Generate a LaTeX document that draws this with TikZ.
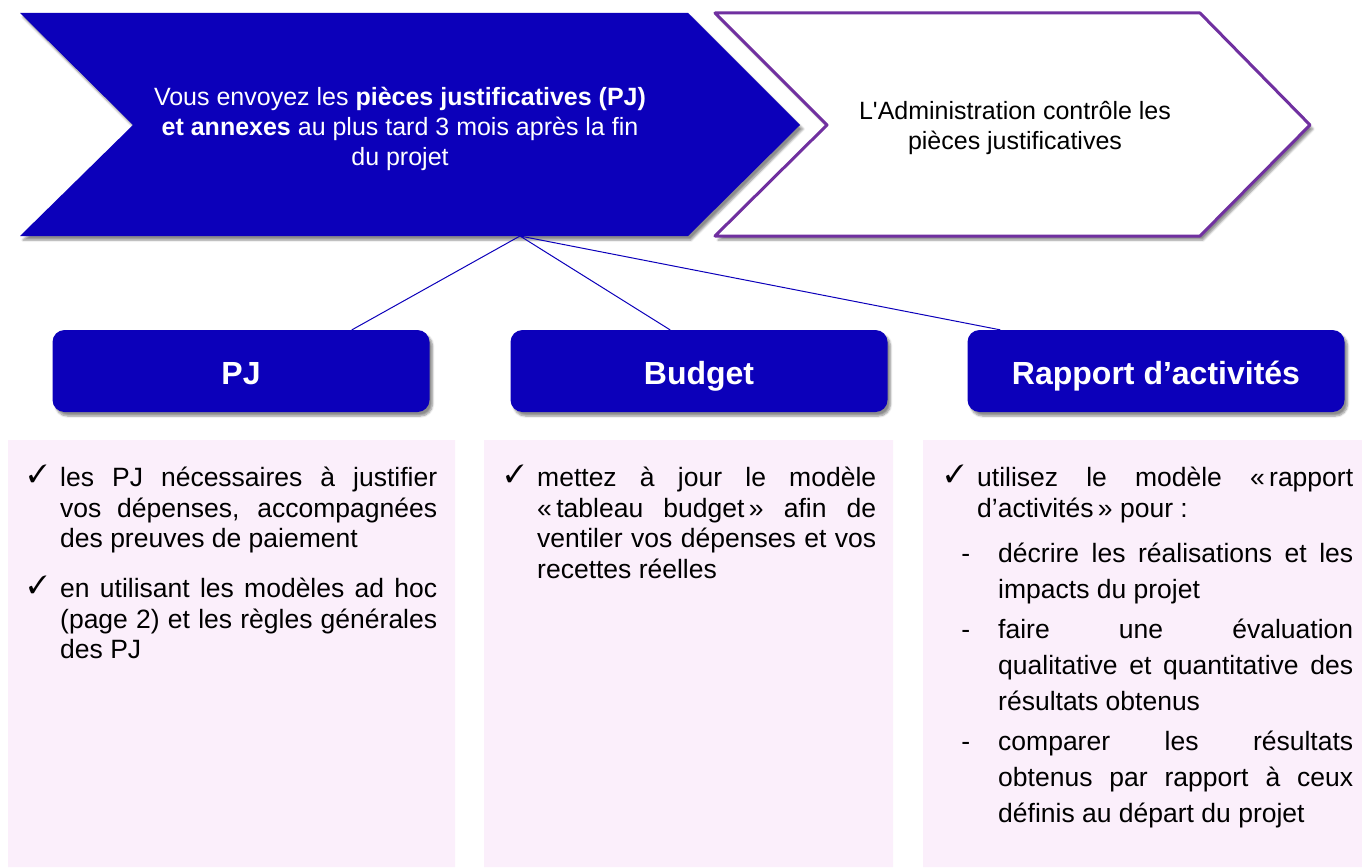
\documentclass[tikz,border=0pt]{standalone}
\usepackage{fontspec}
\setmainfont{Liberation Sans}
\usepackage{pifont}
\usetikzlibrary{shadows.blur}
\definecolor{bleuPJ}{RGB}{12,0,186}
\definecolor{violetPJ}{RGB}{112,48,160}
\definecolor{rosePJ}{RGB}{251,239,251}
\newcommand{\coche}{\raisebox{4pt}{\fontsize{25}{25}\selectfont\ding{51}}}
\newenvironment{coches}{\hyphenpenalty=10000 \tolerance=10000 \hbadness=10000
	\begin{list}{\coche}{\setlength{\leftmargin}{33pt}\setlength{\labelwidth}{21pt}\setlength{\labelsep}{13pt}\setlength{\topsep}{0pt}\setlength{\partopsep}{0pt}\setlength{\parsep}{0pt}\setlength{\itemsep}{19.5pt}}}{\end{list}}
\newenvironment{tirets}{\par\fontsize{26.5}{36}\selectfont
	\begin{list}{-}{\setlength{\leftmargin}{21pt}\setlength{\labelwidth}{10pt}\setlength{\labelsep}{28pt}\setlength{\topsep}{9pt}\setlength{\partopsep}{0pt}\setlength{\parsep}{0pt}\setlength{\itemsep}{4pt}}}{\end{list}}
\begin{document}
\begin{tikzpicture}[x=1pt, y=-1pt, line join=round, line cap=round, >=stealth, font=\fontsize{25}{30}\selectfont]
	\tikzset{every node/.style={inner sep=0pt},
		ombre/.style={blur shadow={shadow xshift=3pt, shadow yshift=-4pt, shadow blur steps=6, shadow opacity=45}},
		titre/.style={fill=bleuPJ, rounded corners=12pt, minimum width=377pt, minimum height=82pt, text height=26pt, text depth=0pt, text=white, font=\fontsize{32}{38}\selectfont\bfseries, ombre},
		liste/.style={anchor=base west, text width=#1, align=justify, font=\fontsize{26.5}{30.5}\selectfont}}
	\useasboundingbox (0,0) rectangle (1362,867);
	%Chevrons
	\fill[bleuPJ, ombre] (20,13)--(688,13)--(800,125)--(688,236)--(20,236)--(133,125)--cycle;
	\draw[violetPJ, line width=3pt, fill=white, ombre] (715,13)--(1200,13)--(1310,125)--(1200,236)--(715,236)--(827,125)--cycle;
	\node[text=white, align=center] (envoi) at (400,129) {Vous envoyez les \textbf{pièces justificatives (PJ)}\\ \textbf{et annexes} au plus tard 3 mois après la fin\\ du projet};
	\node[align=center] (controle) at (1015,128) {L\textquotesingle Administration contrôle les\\ pièces justificatives};
	\coordinate (depart) at (520,236);
	%Titres
	\node[titre] (pj) at (241,371) {PJ};
	\node[titre] (budget) at (699,371) {Budget};
	\node[titre] (rapport) at (1156,371) {Rapport d’activités};
	\draw[bleuPJ, line width=1pt] (depart)--([xshift=111pt]pj.north) (depart)--([xshift=-29pt]budget.north) (depart)--([xshift=-156pt]rapport.north);
	%Cadres
	\fill[rosePJ] (8,440) rectangle (455,867) (484,440) rectangle (893,867) (923,440) rectangle (1362,867);
	\node[liste=410pt] (textepj) at (27,456) {\begin{coches}
			\item les PJ nécessaires à justifier\linebreak vos dépenses, accompagnées\linebreak des preuves de paiement
			\item en utilisant les modèles ad hoc\linebreak (page 2) et les règles générales\linebreak des PJ
		\end{coches}};
	\node[liste=372pt] (textebudget) at (504,456) {\begin{coches}
			\item mettez à jour le modèle\linebreak «\,tableau budget\,» afin de\linebreak ventiler vos dépenses et vos\linebreak recettes réelles
		\end{coches}};
	\node[liste=409pt] (texterapport) at (944,456) {\begin{coches}
			\item utilisez le modèle «\,rapport\linebreak d’activités\,» pour~:
			\begin{tirets}
				\item décrire les réalisations et les\linebreak impacts du projet
				\item faire une évaluation\linebreak qualitative et quantitative des\linebreak résultats obtenus
				\item comparer les résultats\linebreak obtenus par rapport à ceux\linebreak définis au départ du projet
			\end{tirets}
		\end{coches}};
\end{tikzpicture}
\end{document}
